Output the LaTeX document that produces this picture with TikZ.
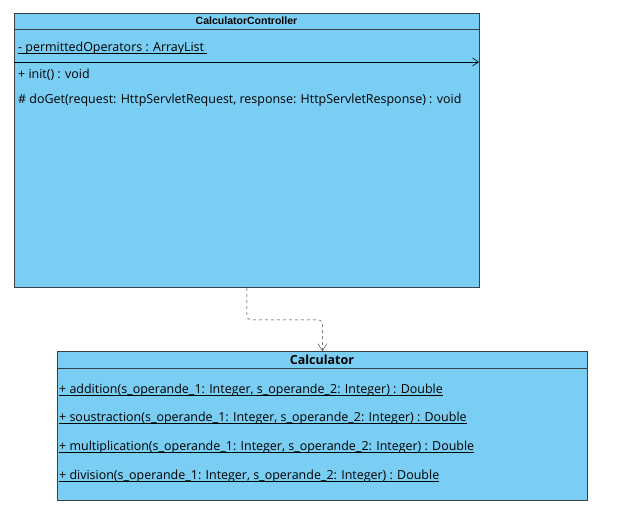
\documentclass[tikz,border=0pt]{standalone}
\usepackage{fontspec}
\setmainfont{Open Sans}
\newfontfamily\headfont{Liberation Sans}
\usetikzlibrary{arrows.meta}
\definecolor{classfill}{RGB}{122,206,243}
\definecolor{classline}{RGB}{54,64,72}
\newcommand\ultext[1]{\setbox0\hbox{#1}\rlap{\rule[-2pt]{\wd0}{0.7pt}}\box0}
\tikzset{
  classbox/.style={draw=classline, fill=classfill, thick, rectangle, inner sep=0pt},
  member/.style={anchor=west, inner sep=0pt, font=\fontsize{12.45}{14}\selectfont},
  dep/.style={draw=black!80, dashed, thin, rounded corners=4pt, -{Straight Barb[length=7pt,width=9pt]}},
}
\begin{document}
\begin{tikzpicture}[x=1pt,y=-1pt]
            \useasboundingbox (0,0) rectangle (627,522);
            % controller class
            \node [classbox, minimum width=465pt, minimum height=274pt, anchor=north west] (ctrl) at (14,13) {};
            \draw [classline, thick] (14,29)--(479,29);
            \node [font=\headfont\bfseries\fontsize{10.5}{12}\selectfont] (ctrlname) at (246.5,20.5) {CalculatorController};
            \draw [-{Straight Barb[length=6pt,width=8pt]}, semithick] (14,62)--(479,62);
            \node [member] (attr) at (18,48.5) {\ultext{- permittedOperators : ArrayList\ }};
            \node [member] (init) at (18,75) {+ init() : void};
            \node [member] (doget) at (18,100) {\# doGet(request: HttpServletRequest, response: HttpServletResponse) : void};
            % calculator class
            \node [classbox, minimum width=530pt, minimum height=149pt, anchor=north west] (calc) at (57,351) {};
            \draw [classline, thick] (57,368)--(587,368);
            \node [font=\bfseries\fontsize{12.5}{14}\selectfont] (calcname) at (322,359.5) {Calculator};
            \node [member] (add) at (59,390) {\ultext{+ addition(s\_operande\_1: Integer, s\_operande\_2: Integer) : Double}};
            \node [member] (sub) at (59,418.5) {\ultext{+ soustraction(s\_operande\_1: Integer, s\_operande\_2: Integer) : Double}};
            \node [member] (mul) at (59,447.5) {\ultext{+ multiplication(s\_operande\_1: Integer, s\_operande\_2: Integer) : Double}};
            \node [member] (div) at (59,476) {\ultext{+ division(s\_operande\_1: Integer, s\_operande\_2: Integer) : Double}};
            % dependency
            \draw [dep] (ctrl.south)--++(0,32)-|(calc.north);
        \end{tikzpicture}
\end{document}
